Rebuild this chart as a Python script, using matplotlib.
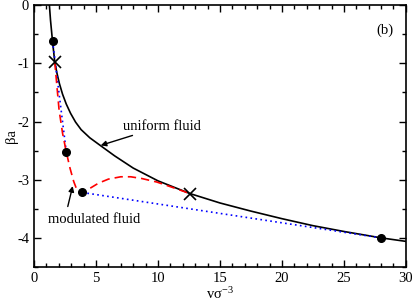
import matplotlib
matplotlib.use("Agg")
import matplotlib.pyplot as plt
from matplotlib.ticker import MultipleLocator

plt.rcParams["font.family"] = ["Liberation Serif", "DejaVu Serif"]
plt.rcParams["mathtext.fontset"] = "custom"
plt.rcParams["mathtext.rm"] = "Liberation Serif"
plt.rcParams["mathtext.it"] = "Liberation Serif:italic"

# uniform fluid (black solid)
uniform_v = [1.24, 1.33, 1.5, 1.67, 1.85, 2.05, 2.3, 2.6, 2.95, 3.35, 3.8, 4.5, 5.4,
             6.5, 8.0, 10.0, 12.6, 15.0, 17.5, 20.0, 22.5, 25.0, 28.0, 30.0]
uniform_f = [0.0, -0.26, -0.64, -0.97, -1.17, -1.35, -1.53, -1.7, -1.86, -2.01,
             -2.14, -2.28, -2.42, -2.59, -2.8, -3.02, -3.24, -3.4, -3.54, -3.67,
             -3.79, -3.89, -4.0, -4.06]

# modulated fluid (red dashed)
mod_v = [1.67, 1.85, 2.02, 2.3, 2.6, 2.9, 3.2, 3.45, 3.7, 4.0, 4.5, 5.2, 6.0, 7.0,
         7.8, 8.7, 9.9, 11.0, 12.6]
mod_f = [-0.97, -1.4, -1.8, -2.2, -2.52, -2.8, -3.03, -3.17, -3.23, -3.22, -3.15,
         -3.06, -2.99, -2.95, -2.95, -2.98, -3.04, -3.12, -3.24]

# common tangents (blue dotted)
tan1_v = [1.5, 2.6]
tan1_f = [-0.62, -2.52]
tan2_v = [3.9, 28.0]
tan2_f = [-3.22, -4.0]

# coexistence points and spinodals
dots_v = [1.5, 2.6, 3.9, 28.0]
dots_f = [-0.62, -2.52, -3.22, -4.0]
cross_v = [1.67, 12.6]
cross_f = [-0.97, -3.24]

fig = plt.figure(figsize=(4.15, 3.02), dpi=100)
ax = fig.add_axes([0.082, 0.116, 0.896, 0.867])

ax.plot(uniform_v, uniform_f, color="black", lw=1.2, zorder=3)
ax.plot(mod_v, mod_f, color="red", lw=1.2, ls=(0, (5, 3)), zorder=4)
ax.plot(tan1_v, tan1_f, color="blue", lw=1.2, ls=(0, (1, 2)), zorder=3)
ax.plot(tan2_v, tan2_f, color="blue", lw=1.2, ls=(0, (1, 2)), zorder=3)
ax.plot(dots_v, dots_f, "o", color="black", ms=5.5, zorder=5)
ax.plot(cross_v, cross_f, "x", color="black", ms=8, mew=1.2, zorder=5)

ax.annotate("uniform fluid", xy=(5.38, -2.41), xytext=(7.2, -2.08),
            fontsize=10.5, va="center", ha="left",
            arrowprops=dict(arrowstyle="-|>", color="black", lw=1, mutation_scale=8,
                            shrinkA=0, shrinkB=0))
ax.annotate("modulated fluid", xy=(3.12, -3.11), xytext=(1.1, -3.69),
            fontsize=10.5, va="center", ha="left",
            arrowprops=dict(arrowstyle="-|>", color="black", lw=1, mutation_scale=8,
                            shrinkA=3, shrinkB=0,
                            relpos=(0.2, 1.0)))
ax.text(29.0, -0.44, "(b)", fontsize=10.5, ha="right", va="center")

ax.set_xlim(0, 30)
ax.set_ylim(-4.5, 0)
ax.xaxis.set_major_locator(MultipleLocator(5))
ax.xaxis.set_minor_locator(MultipleLocator(1))
ax.yaxis.set_major_locator(MultipleLocator(1))
ax.yaxis.set_minor_locator(MultipleLocator(0.5))
ax.tick_params(which="both", direction="in", top=True, right=True, labelsize=10.5)
ax.tick_params(which="major", length=5, width=1)
ax.tick_params(which="minor", length=3, width=1)
ax.set_yticks([-4, -3, -2, -1, 0])
ax.set_yticklabels(["-4", "-3", "-2", "-1", "0"])
ax.set_xticks([0, 5, 10, 15, 20, 25, 30])
ax.set_xticklabels(["0", "5", "10", "15", "20", "25", "30"])
for s in ax.spines.values():
    s.set_linewidth(1.2)

ax.set_xlabel("vσ$^{-3}$", fontsize=10.5, labelpad=1)
ax.set_ylabel("βa", fontsize=10.5, labelpad=-1)

fig.savefig("out.png", dpi=100)
